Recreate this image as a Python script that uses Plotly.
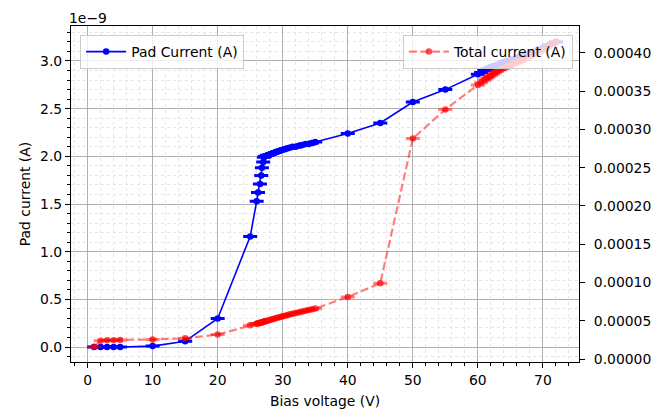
import plotly.graph_objects as go

# Bias voltage steps (V), shared by both current measurements
bias_voltage = [
    1, 2, 3, 4, 5, 10, 15, 20, 25,
    26.0, 26.2, 26.5, 26.7, 26.8, 27.0, 27.1,
    27.3, 27.6, 28.0, 28.4, 28.8, 29.2, 29.6, 30.0, 30.5, 31.0, 31.5,
    32.0, 32.5, 33.0, 33.5, 34.0, 34.5, 35.0,
    40, 45, 50, 55, 60,
    60.5, 61, 61.3, 61.6, 62, 62.3, 62.6, 63, 63.5, 64, 64.5, 65,
    65.5, 66, 66.5, 67, 68, 69, 70, 71, 72,
]

# Pad current in units of 1e-9 A
pad_current_e9 = [
    0.00, 0.00, 0.00, 0.00, 0.00, 0.01, 0.06, 0.30, 1.16,
    1.53, 1.62, 1.71, 1.80, 1.88, 1.94, 1.99,
    2.00, 2.01, 2.02, 2.03, 2.04, 2.05, 2.06, 2.07, 2.08, 2.09, 2.10,
    2.10, 2.11, 2.12, 2.13, 2.13, 2.14, 2.15,
    2.24, 2.35, 2.57, 2.70, 2.86,
    2.88, 2.90, 2.91, 2.92, 2.93, 2.94, 2.95, 2.96, 2.97, 2.99, 3.00, 3.01,
    3.02, 3.03, 3.04, 3.06, 3.08, 3.11, 3.14, 3.17, 3.20,
]

# Total current in A
total_current = [
    1.60e-5, 2.40e-5, 2.45e-5, 2.45e-5, 2.50e-5, 2.55e-5, 2.70e-5, 3.20e-5, 4.40e-5,
    4.60e-5, 4.65e-5, 4.70e-5, 4.75e-5, 4.80e-5, 4.85e-5, 4.90e-5,
    4.95e-5, 5.00e-5, 5.10e-5, 5.20e-5, 5.30e-5, 5.40e-5, 5.50e-5, 5.60e-5, 5.70e-5, 5.80e-5, 5.90e-5,
    6.00e-5, 6.10e-5, 6.20e-5, 6.30e-5, 6.40e-5, 6.50e-5, 6.60e-5,
    8.10e-5, 9.90e-5, 2.88e-4, 3.26e-4, 3.58e-4,
    3.61e-4, 3.64e-4, 3.66e-4, 3.68e-4, 3.70e-4, 3.72e-4, 3.74e-4, 3.76e-4, 3.78e-4, 3.80e-4, 3.82e-4, 3.84e-4,
    3.86e-4, 3.87e-4, 3.89e-4, 3.91e-4, 3.95e-4, 3.99e-4, 4.04e-4, 4.09e-4, 4.15e-4,
]

# Measurement uncertainties
pad_current_err_e9 = 0.008
total_current_err = 1.0e-6

x_ticks = [0, 10, 20, 30, 40, 50, 60, 70]
left_ticks = [0.0, 0.5, 1.0, 1.5, 2.0, 2.5, 3.0]
right_ticks = [0.0, 0.00005, 0.0001, 0.00015, 0.0002, 0.00025, 0.0003, 0.00035, 0.0004]

FONT = "DejaVu Sans"
FS = 13.9

fig = go.Figure()

fig.add_trace(go.Scatter(
    x=bias_voltage, y=pad_current_e9,
    mode="lines+markers",
    name="Pad Current (A)",
    showlegend=True,
    line=dict(color="#0000ff", width=1.6),
    marker=dict(color="#0000ff", size=6.5),
    error_y=dict(type="constant", value=pad_current_err_e9, color="#0000ff",
                 thickness=1.5, width=7),
    legend="legend",
    yaxis="y",
))

fig.add_trace(go.Scatter(
    x=bias_voltage, y=total_current,
    mode="lines+markers",
    name="Total current (A)",
    showlegend=True,
    line=dict(color="rgba(255,0,0,0.5)", width=2.2, dash="8px,3.5px"),
    marker=dict(color="rgba(255,0,0,0.7)", size=6.5),
    error_y=dict(type="constant", value=total_current_err, color="rgba(255,0,0,0.5)",
                 thickness=1.5, width=7),
    legend="legend2",
    yaxis="y2",
))

axis_common = dict(
    showline=True, linecolor="black", linewidth=1.1,
    ticks="outside", ticklen=5, tickwidth=1.1, tickcolor="black",
    tickfont=dict(family=FONT, size=FS, color="black"),
    zeroline=False,
)

legend_common = dict(
    visible=True,
    bgcolor="rgba(255,255,255,0.8)", bordercolor="#cccccc", borderwidth=1,
    font=dict(family=FONT, size=FS),
    itemwidth=40,
)

fig.update_layout(
    width=658, height=410,
    margin=dict(l=71, r=79, t=26, b=48),
    paper_bgcolor="white", plot_bgcolor="white",
    font=dict(family=FONT, size=FS, color="black"),
    showlegend=True,
    xaxis=dict(
        **axis_common,
        range=[-2.55, 75.55],
        tickvals=x_ticks,
        mirror=True,
        showgrid=True, gridcolor="#b0b0b0", gridwidth=1,
        minor=dict(dtick=2, tick0=0, ticks="outside", ticklen=3, tickcolor="black",
                   showgrid=True, gridcolor="#e6e6e6", griddash="dot", gridwidth=0.8),
        title=dict(text="Bias voltage (V)", font=dict(family=FONT, size=FS), standoff=9),
        automargin=False,
    ),
    yaxis=dict(
        **axis_common,
        range=[-0.157, 3.367],
        tickvals=left_ticks,
        tickformat=".1f",
        showgrid=True, gridcolor="#b0b0b0", gridwidth=1,
        minor=dict(dtick=0.1, tick0=0, ticks="outside", ticklen=3, tickcolor="black",
                   showgrid=True, gridcolor="#e6e6e6", griddash="dot", gridwidth=0.8),
        title=dict(text="Pad current (A)", font=dict(family=FONT, size=FS), standoff=6),
        automargin=False,
    ),
    yaxis2=dict(
        **axis_common,
        overlaying="y", side="right",
        range=[-0.0000039, 0.000435],
        tickvals=right_ticks,
        tickformat=".5f",
        ticklabelstandoff=6,
        showgrid=False,
        automargin=False,
    ),
    legend=dict(**legend_common, x=0.018, y=0.973, xanchor="left", yanchor="top"),
    legend2=dict(**legend_common, x=0.988, y=0.973, xanchor="right", yanchor="top"),
    annotations=[dict(
        text="1e\u22129", x=0, y=1, xref="paper", yref="paper",
        xanchor="left", yanchor="bottom", showarrow=False,
        font=dict(family=FONT, size=FS, color="black"), xshift=-4, yshift=-2,
    )],
)

fig.write_html("out.html")
